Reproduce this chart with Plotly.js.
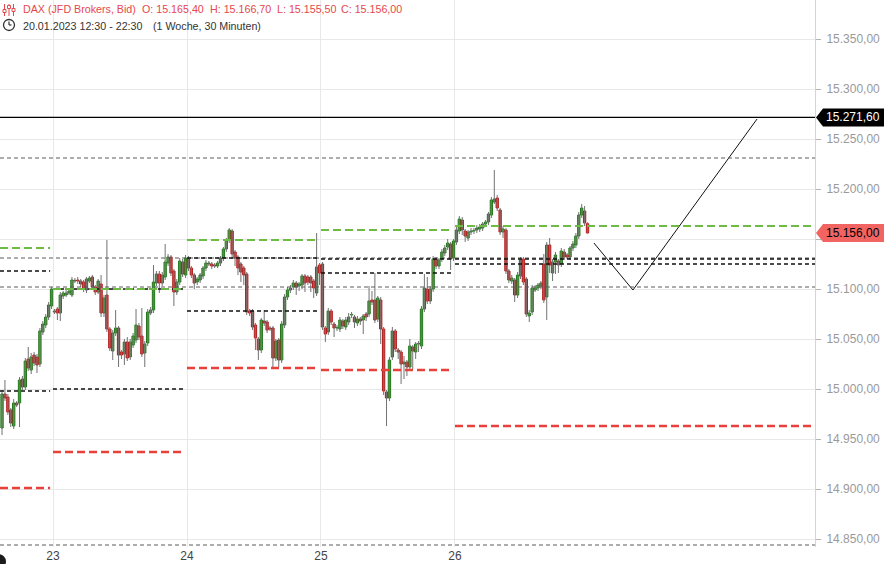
<!DOCTYPE html>
<html><head><meta charset="utf-8">
<script src="https://cdn.plot.ly/plotly-3.0.1.min.js"></script>
<style>html,body{margin:0;padding:0;background:#fff}#chart{width:884px;height:564px}</style>
</head><body><div id="chart"></div>
<script>
// ---- data ----
const dayLabels = ['23', '24', '25', '26'];
const dayStartIdx = [17.5, 63.5, 109.5, 155.5];
const priceTicks = [14850, 14900, 14950, 15000, 15050, 15100, 15150, 15200, 15250, 15300, 15350];

const openP = [
 14961,14995,14992,14979,14963,14986,14986,15010,15002,15030,15019,15034,15032,15025,15057,15064,15072,15083,
 15077,15080,15076,15093,15094,15096,15094,15108,15109,15108,15107,15099,15108,15112,15102,15097,15105,15076,15094,15060,15038,15056,15061,15037,15035,15047,15032,15044,15049,15063,15053,15036,15046,15076,15079,15106,15115,15106,15112,15126,15132,15118,15097,15107,15127,15114,
 15130,15121,15114,15107,15109,15113,15121,15125,15125,15124,15123,15126,15131,15140,15149,15158,15137,15132,15125,15121,15115,15078,15078,15064,15050,15039,15068,15067,15061,15061,15031,15049,15029,15064,15092,15099,15102,15106,15103,15104,15113,15112,15112,15108,15096,15124,
 15125,15061,15057,15078,15065,15061,15060,15068,15062,15067,15074,15072,15066,15070,15069,15075,15075,15089,15089,15070,15089,15060,14997,14991,15032,15058,15039,15037,15025,15027,15022,15042,15037,15045,15043,15080,15100,15088,15100,15130,15123,15130,15136,15142,15145,15131,
 15147,15158,15169,15158,15151,15157,15158,15159,15160,15161,15165,15167,15174,15187,15191,15179,15157,15159,15118,15108,15109,15094,15113,15130,15110,15073,15077,15099,15101,15103,15125,15092,15144,15116,15127,15128,15125,15137,15134,15132,15141,15144,15153,15174,15178,15165.4
];
const highP = [
 14999,15009,14995,14981,14990,14988,15012,15013,15031,15042,15036,15037,15035,15061,15068,15075,15087,15102,
 15080,15082,15097,15098,15099,15100,15112,15111,15112,15110,15109,15112,15113,15114,15104,15110,15114,15094,15149,15062,15059,15079,15063,15039,15050,15052,15050,15056,15080,15066,15081,15048,15080,15082,15124,15118,15118,15117,15145,15135,15134,15120,15110,15131,15130,15134,
 15133,15123,15116,15112,15116,15123,15129,15128,15127,15126,15128,15133,15142,15151,15161,15160,15139,15134,15127,15123,15117,15080,15080,15066,15052,15071,15079,15069,15063,15063,15050,15051,15068,15095,15102,15104,15109,15108,15107,15115,15115,15114,15114,15110,15156,15126,
 15127,15063,15081,15080,15067,15064,15072,15070,15072,15076,15077,15074,15073,15072,15075,15077,15103,15098,15116,15093,15092,15062,14999,15032,15062,15060,15041,15039,15033,15029,15050,15044,15047,15048,15083,15115,15112,15103,15133,15132,15131,15140,15144,15150,15147,15150,
 15162,15173,15172,15160,15159,15161,15161,15164,15165,15167,15169,15177,15192,15219,15194,15181,15163,15161,15120,15114,15111,15117,15132,15132,15112,15079,15104,15104,15106,15108,15135,15147,15151,15130,15137,15130,15141,15140,15136,15143,15148,15156,15177,15185,15183,15166.7
];
const lowP = [
 14954,14988,14974,14962,14960,14982,14962,14999,14999,15018,15015,15023,15016,15022,15054,15061,15069,15080,
 15075,15069,15068,15090,15092,15094,15092,15106,15105,15102,15097,15096,15106,15099,15094,15095,15072,15072,15057,15038,15029,15053,15022,15030,15024,15028,15029,15041,15046,15049,15032,15022,15043,15074,15076,15103,15096,15103,15109,15123,15113,15083,15094,15104,15112,15111,
 15118,15111,15100,15104,15106,15110,15118,15123,15120,15121,15121,15123,15128,15137,15146,15132,15123,15114,15107,15104,15074,15073,15059,15039,15029,15036,15063,15056,15058,15021,15028,15022,15026,15061,15089,15096,15099,15094,15098,15100,15097,15104,15097,15091,15093,15104,
 15059,15047,15054,15064,15052,15058,15057,15060,15059,15064,15071,15061,15063,15064,15055,15068,15072,15084,15066,15067,15045,14994,14963,14988,15029,15037,15030,15005,15010,15013,15019,15020,15030,15037,15040,15077,15085,15085,15097,15120,15120,15127,15133,15139,15119,15128,
 15144,15155,15154,15147,15148,15154,15155,15156,15157,15158,15162,15164,15171,15185,15178,15154,15151,15115,15106,15105,15087,15091,15110,15104,15072,15067,15074,15097,15098,15100,15086,15069,15116,15108,15115,15116,15122,15129,15130,15129,15138,15141,15150,15171,15163,15155.5
];
const closeP = [
 14995,14991,14977,14966,14986,14984,15009,15002,15028,15021,15032,15026,15024,15058,15065,15072,15084,15100,
 15078,15076,15094,15096,15096,15098,15109,15108.5,15108,15105,15100,15110,15111,15102,15097,15108,15076,15091,15060,15041,15056,15061,15034,15034,15047,15031,15047,15053,15064,15052,15035,15045,15077,15079,15107,15115,15106,15114,15127,15132,15116,15097,15107,15128,15115,15131,
 15121,15114,15106,15110,15114,15121,15126,15126,15123,15123,15126,15131,15140,15149,15159,15135,15131,15121,15117,15114,15077,15076,15062,15051,15039,15069,15066,15059,15060,15031,15048,15029,15065,15092,15099,15101,15106,15102,15105,15113,15106,15107,15106,15101,15122,15116,
 15062,15055,15078,15067,15061,15061.5,15069,15063,15069,15072,15074.5,15067,15070,15068,15073,15072,15088,15087,15069,15091,15060,14998,14991,15029,15058,15040,15037,15025,15027,15022,15043,15038,15045,15045.5,15080,15101,15088,15100,15130,15123,15129,15137,15141,15146,15130,15148,
 15159,15170,15159,15153,15157,15158,15158.5,15161,15162,15165,15167,15175,15189,15190,15181,15157,15160,15118,15109,15111,15094,15114,15129,15107,15075,15076,15101,15101,15104,15106,15089,15144,15124,15127,15134,15124,15138,15132,15132,15141,15145,15153,15174,15181,15166,15156
];

// daily level lines (one entry per session: 20, 23, 24, 25, 26)
const levelStart   = [-0.7, 17.5, 63.5, 109.5, 155.5];
const levelEnd     = [16.5, 62.5, 108.5, 154.5, 279.1];
const greenLevels  = [15141, 15100, 15149, 15159, 15163];
const redLevels    = [14901, 14937, 15021, 15019, 14963];
const blackLevelsA = [15118, 15100, 15131, 15130, 15130];
const blackLevelsB = [14998, 15000, 15078, 15116, 15125];
const greyLevels   = [15231, 15131, 15102, 14844];
const targetLevel  = 15271.6;

// drawn projection line
const projX = [203.2, 216.6, 259.2];
const projY = [15146, 15099, 15270];

// ---- geometry ----
const X_RANGE = [-0.7, 279.1];
const Y_RANGE = [14842, 15389];
const PW = 815, PH = 547;
const pxX = px => px / PW;
const pxY = py => 1 - py / PH;
const prY = p => (p - Y_RANGE[0]) / (Y_RANGE[1] - Y_RANGE[0]);
const fmtDE = v => {
  const s = v.toFixed(2).split('.');
  return s[0].replace(/\B(?=(\d{3})+(?!\d))/g, '.') + ',' + s[1];
};

const n = openP.length;
const lastClose = closeP[n - 1];
const wx = [], wy = [];
const gx = [], gy = [], gb = [], rx = [], ry = [], rb = [];
for (let i = 0; i < n; i++) {
  const o = openP[i], c = closeP[i];
  const h = Math.max(highP[i], o, c), l = Math.min(lowP[i], o, c);
  wx.push(i, i, null); wy.push(l, h, null);
  const lo = Math.min(o, c), ht = Math.max(Math.abs(c - o), 0.6);
  if (c >= o) { gx.push(i); gy.push(ht); gb.push(lo); }
  else { rx.push(i); ry.push(ht); rb.push(lo); }
}

const traces = [
  {type: 'scatter', mode: 'lines', x: wx, y: wy, line: {color: '#727272', width: 1}, hoverinfo: 'skip'},
  {type: 'bar', x: gx, y: gy, base: gb, width: 0.8,
   marker: {color: '#4fae2c', line: {color: '#23751f', width: 1}}, hoverinfo: 'skip'},
  {type: 'bar', x: rx, y: ry, base: rb, width: 0.8,
   marker: {color: '#ea3434', line: {color: '#b01e1e', width: 1}}, hoverinfo: 'skip'},
  {type: 'scatter', mode: 'lines', x: projX, y: projY, line: {color: '#111', width: 1}, hoverinfo: 'skip'}
];

const shapes = [];
greyLevels.forEach(v => shapes.push({type: 'line', xref: 'x', yref: 'y', x0: X_RANGE[0], x1: X_RANGE[1], y0: v, y1: v,
  line: {color: '#5a5a5a', width: 1, dash: '4px,3px'}, layer: 'above'}));
for (let d = 0; d < levelStart.length; d++) {
  [blackLevelsA[d], blackLevelsB[d]].forEach(v => shapes.push({type: 'line', xref: 'x', yref: 'y',
    x0: levelStart[d], x1: levelEnd[d], y0: v, y1: v, line: {color: '#111', width: 1.4, dash: '4px,3px'}, layer: 'above'}));
  shapes.push({type: 'line', xref: 'x', yref: 'y', x0: levelStart[d], x1: levelEnd[d], y0: greenLevels[d], y1: greenLevels[d],
    line: {color: '#6dbb45', width: 2.2, dash: '8px,4px'}, layer: 'above'});
  shapes.push({type: 'line', xref: 'x', yref: 'y', x0: levelStart[d], x1: levelEnd[d], y0: redLevels[d], y1: redLevels[d],
    line: {color: '#e8413c', width: 2.5, dash: '8px,4px'}, layer: 'above'});
}
shapes.push({type: 'line', xref: 'x', yref: 'y', x0: X_RANGE[0], x1: X_RANGE[1], y0: targetLevel, y1: targetLevel,
  line: {color: '#000', width: 1.2}, layer: 'above'});

// price label boxes on the right axis
function labelBox(price, fill) {
  const yc = prY(price), hh = 9 / PH;
  return {type: 'path', xref: 'paper', yref: 'paper', fillcolor: fill, line: {width: 0}, layer: 'above',
    path: `M ${pxX(816)} ${yc} L ${pxX(823)} ${yc + hh} L ${pxX(884)} ${yc + hh} L ${pxX(884)} ${yc - hh} L ${pxX(823)} ${yc - hh} Z`};
}
shapes.push(labelBox(targetLevel, '#000'));
shapes.push(labelBox(lastClose, '#f26462'));

// header icons
const red = '#e5484d';
[4.5, 9, 13.5].forEach((x, k) => {
  shapes.push({type: 'line', xref: 'paper', yref: 'paper', x0: pxX(x), x1: pxX(x), y0: pxY(4), y1: pxY(16), line: {color: red, width: 1}});
  const yy = [11, 7, 10][k];
  shapes.push({type: 'rect', xref: 'paper', yref: 'paper', x0: pxX(x - 1.5), x1: pxX(x + 1.5), y0: pxY(yy - 1.5), y1: pxY(yy + 1.5),
    fillcolor: '#fff', line: {color: red, width: 1}});
});
shapes.push({type: 'circle', xref: 'paper', yref: 'paper', x0: pxX(3.5), x1: pxX(14.5), y0: pxY(19.5), y1: pxY(30.5),
  line: {color: '#333', width: 1.3}});
shapes.push({type: 'line', xref: 'paper', yref: 'paper', x0: pxX(9), x1: pxX(9), y0: pxY(25), y1: pxY(21.5), line: {color: '#333', width: 1.2}});
shapes.push({type: 'line', xref: 'paper', yref: 'paper', x0: pxX(9), x1: pxX(11.5), y0: pxY(25), y1: pxY(25), line: {color: '#333', width: 1.2}});
shapes.push({type: 'circle', xref: 'paper', yref: 'paper', x0: pxX(-9), x1: pxX(6), y0: pxY(554), y1: pxY(569),
  fillcolor: '#1b1b1b', line: {width: 0}});

const hdrFont = {family: 'Liberation Sans, Arial, sans-serif', size: 10.7};
function txt(x, y, s, color) {
  return {xref: 'paper', yref: 'paper', x: pxX(x), y: pxY(y), text: s, showarrow: false,
    xanchor: 'left', yanchor: 'middle', font: Object.assign({}, hdrFont, {color: color})};
}
const annotations = [
  txt(21, 9.5, 'DAX (JFD Brokers, Bid)', red),
  txt(140, 9.5, 'O: ' + fmtDE(openP[n - 1]), red),
  txt(208, 9.5, 'H: ' + fmtDE(highP[n - 1]), red),
  txt(275, 9.5, 'L: ' + fmtDE(lowP[n - 1]), red),
  txt(339, 9.5, 'C: ' + fmtDE(closeP[n - 1]), red),
  txt(21, 25.5, '20.01.2023 12:30 - 22:30', '#333'),
  txt(151, 25.5, '(1 Woche, 30 Minuten)', '#333'),
  {xref: 'paper', yref: 'paper', x: pxX(824), y: prY(targetLevel), text: fmtDE(targetLevel), showarrow: false,
   xanchor: 'left', yanchor: 'middle', font: {family: 'Liberation Sans, Arial, sans-serif', size: 12, color: '#fff'}},
  {xref: 'paper', yref: 'paper', x: pxX(824), y: prY(lastClose), text: fmtDE(lastClose), showarrow: false,
   xanchor: 'left', yanchor: 'middle', font: {family: 'Liberation Sans, Arial, sans-serif', size: 12, color: '#000'}}
];

// tick labels: the one hidden under the last-price box stays empty
const priceTickText = priceTicks.map(v => Math.abs(v - lastClose) < 12 ? '' : fmtDE(v));

const layout = {
  width: 884, height: 564,
  margin: {l: 0, r: 69, t: 0, b: 17, pad: 0},
  paper_bgcolor: '#fff', plot_bgcolor: '#fff',
  showlegend: false, hovermode: false, barmode: 'overlay',
  font: {family: 'Liberation Sans, Arial, sans-serif'},
  xaxis: {range: X_RANGE, tickmode: 'array', tickvals: dayStartIdx, ticktext: dayLabels,
    showgrid: true, gridcolor: '#e8e8e8', gridwidth: 1, zeroline: false, showline: false, ticks: '',
    tickfont: {size: 12, color: '#444'}, fixedrange: true},
  yaxis: {range: Y_RANGE, side: 'right', tickmode: 'array', tickvals: priceTicks, ticktext: priceTickText,
    showgrid: true, gridcolor: '#e8e8e8', gridwidth: 1, zeroline: false,
    showline: true, linecolor: '#d4d4d4', linewidth: 1,
    ticks: 'outside', ticklen: 5, tickcolor: '#b5b5b5', ticklabelstandoff: 3,
    tickfont: {size: 12, color: '#9a9a9a'}, fixedrange: true},
  shapes: shapes,
  annotations: annotations
};

Plotly.newPlot('chart', traces, layout, {displayModeBar: false, staticPlot: true});
</script>
</body></html>
